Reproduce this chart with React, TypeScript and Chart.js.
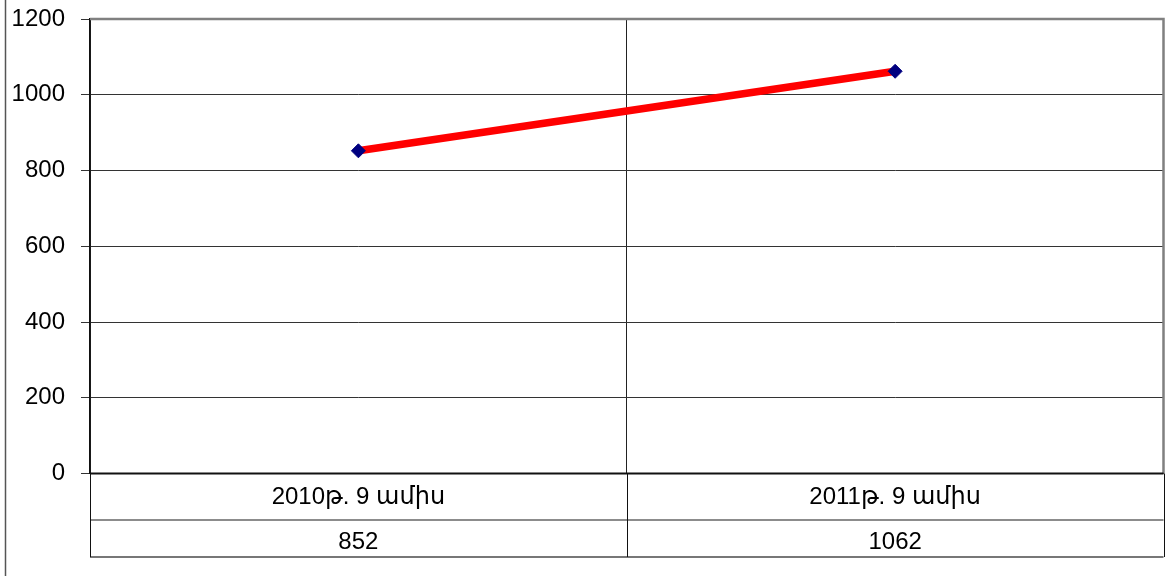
import React, { useEffect, useRef } from "react";
import { Chart, registerables } from "chart.js";

Chart.register(...registerables);

const categories = ["2010թ. 9 ամիս", "2011թ. 9 ամիս"];
const values = [852, 1062];
const tableValues = ["852", "1062"];
const yMin = 0;
const yMax = 1200;
const yStep = 200;

const FONT = "'Liberation Sans', Arial, 'DejaVu Sans', sans-serif";

const tablePlugin = {
  id: "tablePlugin",
  beforeDatasetsDraw(chart: any) {
    const { ctx, chartArea } = chart;
    ctx.save();
    ctx.strokeStyle = "#808080";
    ctx.lineWidth = 2.5;
    ctx.beginPath();
    ctx.moveTo(chartArea.left, chartArea.top);
    ctx.lineTo(chartArea.right, chartArea.top);
    ctx.lineTo(chartArea.right, chartArea.bottom);
    ctx.stroke();
    ctx.restore();
  },
  afterDraw(chart: any) {
    const { ctx, chartArea, scales } = chart;
    const x = scales.x;
    const left = chartArea.left;
    const right = chartArea.right;
    const top = chartArea.bottom;
    const row1 = 520;
    const bottom = 557;
    ctx.save();
    ctx.strokeStyle = "#555";
    ctx.lineWidth = 1.5;
    ctx.beginPath();
    ctx.moveTo(5.5, 0);
    ctx.lineTo(5.5, 576);
    ctx.stroke();
    ctx.strokeStyle = "#111";
    ctx.lineWidth = 2;
    ctx.beginPath();
    ctx.moveTo(left, top);
    ctx.lineTo(right, top);
    ctx.stroke();
    ctx.strokeStyle = "#666";
    ctx.lineWidth = 1.5;
    ctx.beginPath();
    ctx.moveTo(left, row1);
    ctx.lineTo(right, row1);
    ctx.stroke();
    ctx.strokeStyle = "#777";
    ctx.lineWidth = 2;
    ctx.beginPath();
    ctx.moveTo(left, bottom);
    ctx.lineTo(right, bottom);
    ctx.stroke();
    ctx.strokeStyle = "#111";
    ctx.lineWidth = 1;
    const n = categories.length;
    for (let i = 0; i <= n; i++) {
      const bx = left + ((right - left) * i) / n;
      const px = Math.round(bx) + 0.5;
      ctx.beginPath();
      ctx.moveTo(px, top);
      ctx.lineTo(px, bottom);
      ctx.stroke();
    }
    ctx.fillStyle = "#000";
    ctx.font = `24px ${FONT}`;
    ctx.textAlign = "center";
    ctx.textBaseline = "middle";
    categories.forEach((c, i) => {
      const cx = x.getPixelForValue(i);
      ctx.fillText(c, cx, 497);
      ctx.fillText(tableValues[i], cx, 542);
    });
    ctx.restore();
  },
};

export default function App() {
  const ref = useRef<HTMLCanvasElement | null>(null);
  useEffect(() => {
    if (!ref.current) return;
    const chart = new Chart(ref.current, {
      type: "line",
      data: {
        labels: categories,
        datasets: [
          {
            data: values,
            borderColor: "#ff0000",
            borderWidth: 7.5,
            pointStyle: "rectRot",
            pointRadius: 7,
            pointBackgroundColor: "#000080",
            pointBorderColor: "#000080",
            pointBorderWidth: 1,
            tension: 0,
          },
        ],
      },
      options: {
        animation: false,
        responsive: true,
        maintainAspectRatio: false,
        layout: { autoPadding: false, padding: { top: 19, right: 5.5, bottom: 102.5, left: 0 } },
        plugins: { legend: { display: false }, tooltip: { enabled: false } },
        scales: {
          x: {
            type: "category",
            offset: true,
            grid: { offset: true, color: "#222", lineWidth: 1, drawTicks: false },
            border: { display: false },
            ticks: { display: false },
            afterFit: (s: any) => {
              s.height = 0;
              s.paddingLeft = 0;
              s.paddingRight = 0;
            },
          },
          y: {
            min: yMin,
            max: yMax,
            ticks: {
              stepSize: yStep,
              color: "#000",
              font: { size: 24, family: FONT },
              padding: 16,
              callback: (v: any) => String(v),
            },
            grid: { color: "#333", lineWidth: 1, tickLength: 9 },
            border: { color: "#111", width: 1.5 },
            afterFit: (s: any) => {
              s.width = 90;
              s.paddingTop = 0;
              s.paddingBottom = 0;
            },
          },
        },
      },
      plugins: [tablePlugin],
    });
    return () => chart.destroy();
  }, []);
  return (
    <div style={{ position: "absolute", left: 0, top: 0, width: 1169, height: 576, background: "#fff" }}>
      <canvas ref={ref} />
    </div>
  );
}
